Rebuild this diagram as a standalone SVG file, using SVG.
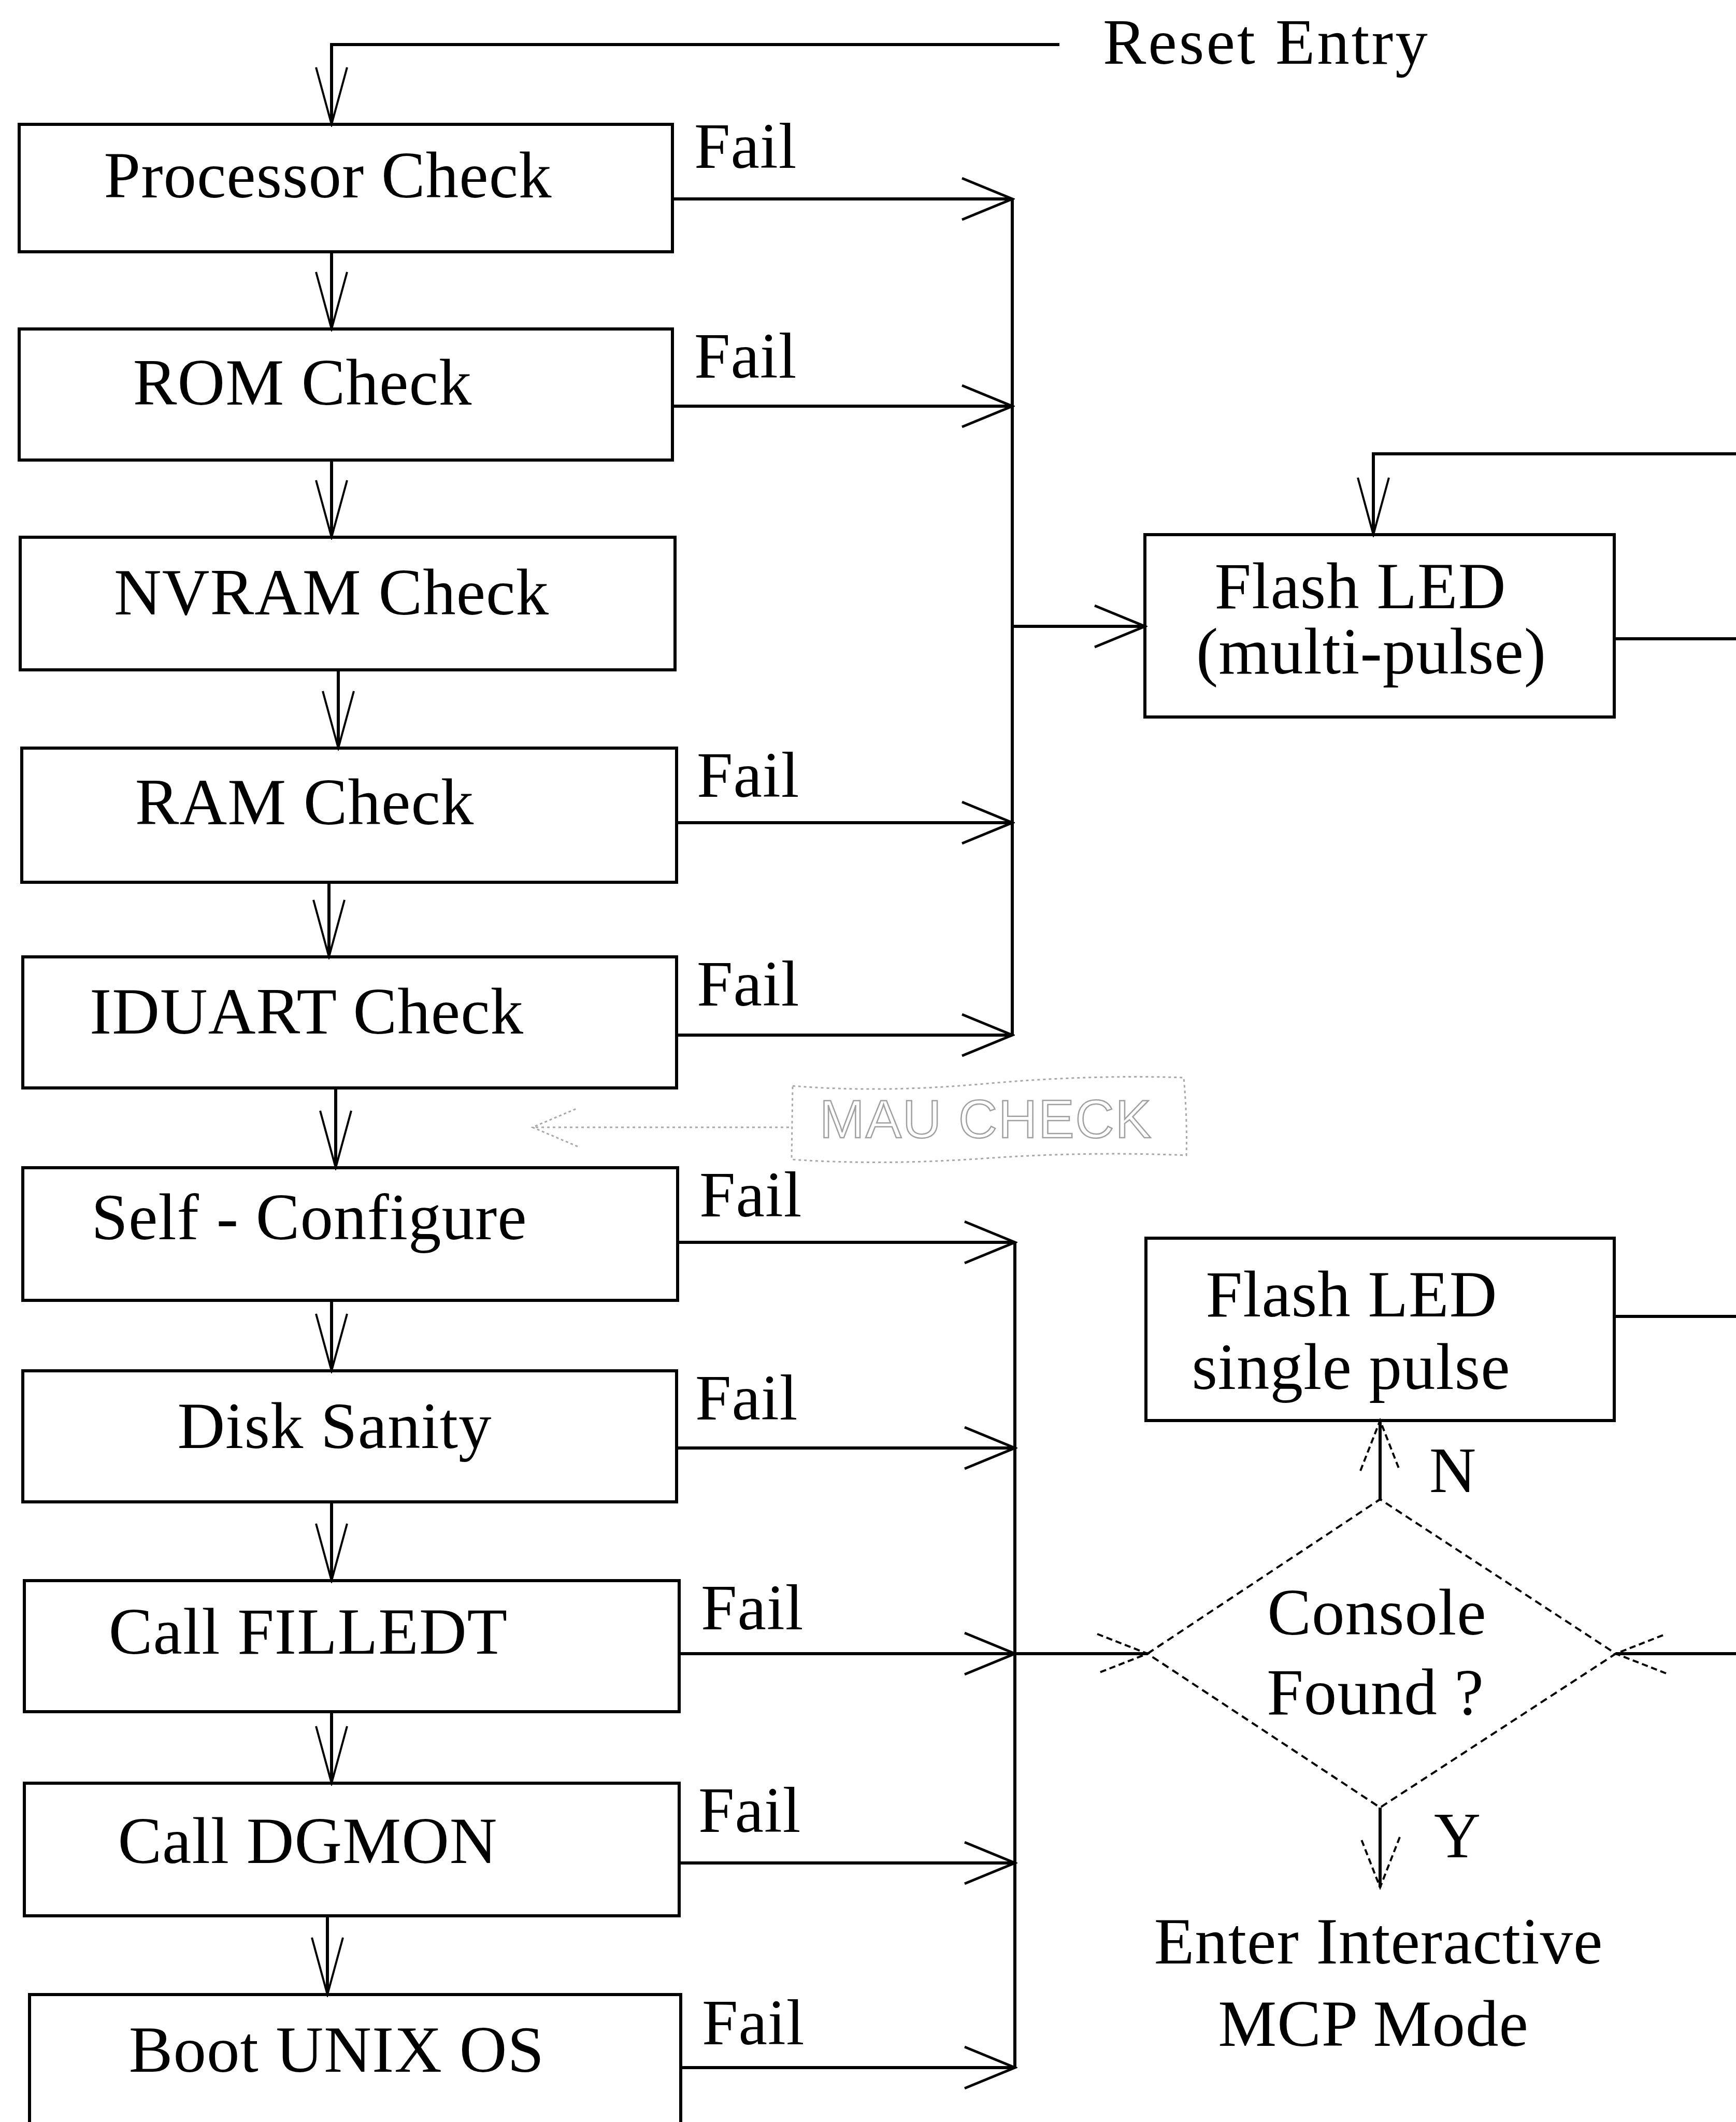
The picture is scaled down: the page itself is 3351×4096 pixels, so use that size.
<svg xmlns="http://www.w3.org/2000/svg" width="3351" height="4096" viewBox="0 0 3351 4096">
<style>
.box{fill:none;stroke:#000;stroke-width:6}
.t{font-family:"Liberation Serif","Times New Roman",serif;font-size:127px;fill:#000;text-anchor:middle;letter-spacing:1px}
.l{font-family:"Liberation Serif","Times New Roman",serif;font-size:125px;fill:#000;letter-spacing:1px}
.c{fill:none;stroke:#000;stroke-width:6}
.d{fill:none;stroke:#000;stroke-width:4;stroke-dasharray:14 9}
.g{fill:none;stroke:#a8a8a8;stroke-width:3;stroke-dasharray:5 6}
.gt{font-family:"Liberation Sans",Arial,sans-serif;font-size:104px;fill:none;stroke:#a0a0a0;stroke-width:2.5;letter-spacing:2px}
</style>
<defs>
<marker id="ah" markerUnits="userSpaceOnUse" viewBox="0 0 110 100" refX="105" refY="50" markerWidth="110" markerHeight="100" orient="auto">
<path d="M8,10 L105,50 L8,90" fill="none" stroke="#000" stroke-width="5"/>
</marker>
<marker id="av" markerUnits="userSpaceOnUse" viewBox="0 0 120 80" refX="115" refY="40" markerWidth="120" markerHeight="80" orient="auto">
<path d="M5,10 L115,40 L5,70" fill="none" stroke="#000" stroke-width="4"/>
</marker>
<marker id="ad" markerUnits="userSpaceOnUse" viewBox="0 0 110 100" refX="105" refY="50" markerWidth="110" markerHeight="100" orient="auto">
<path d="M8,12 L105,50 L8,88" fill="none" stroke="#000" stroke-width="4" stroke-dasharray="12 7"/>
</marker>
<marker id="ag" markerUnits="userSpaceOnUse" viewBox="0 0 100 90" refX="95" refY="45" markerWidth="100" markerHeight="90" orient="auto">
<path d="M8,8 L95,45 L8,82" fill="none" stroke="#a8a8a8" stroke-width="3" stroke-dasharray="5 5"/>
</marker>
</defs>
<rect width="3351" height="4096" fill="#fff"/>

<g id="connectors">
<path class="c" d="M2045,86 H640 V240" marker-end="url(#av)"/>
<path class="c" d="M640,486 V635" marker-end="url(#av)"/>
<path class="c" d="M640,888 V1037" marker-end="url(#av)"/>
<path class="c" d="M653,1293 V1444" marker-end="url(#av)"/>
<path class="c" d="M635,1703 V1847" marker-end="url(#av)"/>
<path class="c" d="M648,2100 V2254" marker-end="url(#av)"/>
<path class="c" d="M640,2510 V2646" marker-end="url(#av)"/>
<path class="c" d="M640,2899 V3051" marker-end="url(#av)"/>
<path class="c" d="M640,3304 V3442" marker-end="url(#av)"/>
<path class="c" d="M632,3698 V3850" marker-end="url(#av)"/>
<path class="c" d="M1298,384 H1954" marker-end="url(#ah)"/>
<path class="c" d="M1298,784 H1954" marker-end="url(#ah)"/>
<path class="c" d="M1306,1588 H1954" marker-end="url(#ah)"/>
<path class="c" d="M1306,1998 H1954" marker-end="url(#ah)"/>
<path class="c" d="M1954,384 V1998"/>
<path class="c" d="M1954,1209 H2210" marker-end="url(#ah)"/>
<path class="c" d="M1308,2398 H1959" marker-end="url(#ah)"/>
<path class="c" d="M1306,2795 H1959" marker-end="url(#ah)"/>
<path class="c" d="M1311,3192 H1959" marker-end="url(#ah)"/>
<path class="c" d="M1311,3596 H1959" marker-end="url(#ah)"/>
<path class="c" d="M1314,3991 H1959" marker-end="url(#ah)"/>
<path class="c" d="M1959,2398 V3991"/>
<path class="c" d="M1959,3192 H2215" marker-end="url(#ad)"/>
<path class="c" d="M3116,1233 H3351"/>
<path class="c" d="M3351,876 H2651 V1032" marker-end="url(#av)"/>
<path class="c" d="M3116,2541 H3351"/>
<path class="c" d="M3351,3192 H3119" marker-end="url(#ad)"/>
<path class="c" d="M2664,2894 V2742" marker-end="url(#ad)"/>
<path class="c" d="M2664,3489 V3643" marker-end="url(#ad)"/>
<path class="g" d="M1523,2176 H1028" marker-end="url(#ag)"/>
</g>

<g id="reset-entry"><text class="l" x="2129" y="123" style="letter-spacing:4px">Reset Entry</text></g>

<g id="processor-check"><rect class="box" x="37" y="240" width="1261" height="246"/><text class="t" x="633" y="381">Processor Check</text></g>
<g id="rom-check"><rect class="box" x="37" y="635" width="1261" height="253"/><text class="t" x="584" y="781">ROM Check</text></g>
<g id="nvram-check"><rect class="box" x="39" y="1037" width="1264" height="256"/><text class="t" x="640" y="1186">NVRAM Check</text></g>
<g id="ram-check"><rect class="box" x="42" y="1444" width="1264" height="259"/><text class="t" x="588" y="1591">RAM Check</text></g>
<g id="iduart-check"><rect class="box" x="44" y="1847" width="1262" height="253"/><text class="t" x="592" y="1995">IDUART Check</text></g>
<g id="self-configure"><rect class="box" x="44" y="2254" width="1264" height="256"/><text class="t" x="597" y="2392">Self - Configure</text></g>
<g id="disk-sanity"><rect class="box" x="44" y="2646" width="1262" height="253"/><text class="t" x="646" y="2795">Disk Sanity</text></g>
<g id="call-filledt"><rect class="box" x="47" y="3051" width="1264" height="253"/><text class="t" x="595" y="3192">Call FILLEDT</text></g>
<g id="call-dgmon"><rect class="box" x="47" y="3442" width="1264" height="256"/><text class="t" x="594" y="3596">Call DGMON</text></g>
<g id="boot-unix"><rect class="box" x="57" y="3850" width="1257" height="320"/><text class="t" x="650" y="3999">Boot UNIX OS</text></g>

<g id="fail-labels">
<text class="l" x="1340" y="324">Fail</text>
<text class="l" x="1340" y="729">Fail</text>
<text class="l" x="1345" y="1538">Fail</text>
<text class="l" x="1345" y="1941">Fail</text>
<text class="l" x="1350" y="2348">Fail</text>
<text class="l" x="1342" y="2740">Fail</text>
<text class="l" x="1353" y="3145">Fail</text>
<text class="l" x="1348" y="3536">Fail</text>
<text class="l" x="1355" y="3946">Fail</text>
</g>

<g id="flash-led-multi"><rect class="box" x="2210" y="1032" width="906" height="352"/><text class="t" x="2626" y="1174">Flash LED</text><text class="t" x="2647" y="1300">(multi-pulse)</text></g>

<g id="flash-led-single"><rect class="box" x="2212" y="2390" width="904" height="352"/><text class="t" x="2609" y="2541">Flash LED</text><text class="t" x="2608" y="2681">single pulse</text></g>

<g id="console-found"><polygon class="d" points="2215,3192 2664,2894 3119,3192 2664,3489"/><text class="t" x="2658" y="3155">Console</text><text class="t" x="2655" y="3309">Found ?</text></g>

<g id="label-n"><text class="l" x="2759" y="2880">N</text></g>
<g id="label-y"><text class="l" x="2768" y="3585">Y</text></g>

<g id="enter-mcp"><text class="t" x="2661" y="3790">Enter Interactive</text><text class="t" x="2651" y="3949">MCP Mode</text></g>

<g id="mau-check">
<path class="g" d="M1530,2096 Q1700,2110 1900,2092 T2285,2080 Q2292,2160 2290,2230 Q2100,2222 1900,2236 T1528,2238 Z"/>
<text class="gt" x="1582" y="2196">MAU CHECK</text>
</g>
</svg>
